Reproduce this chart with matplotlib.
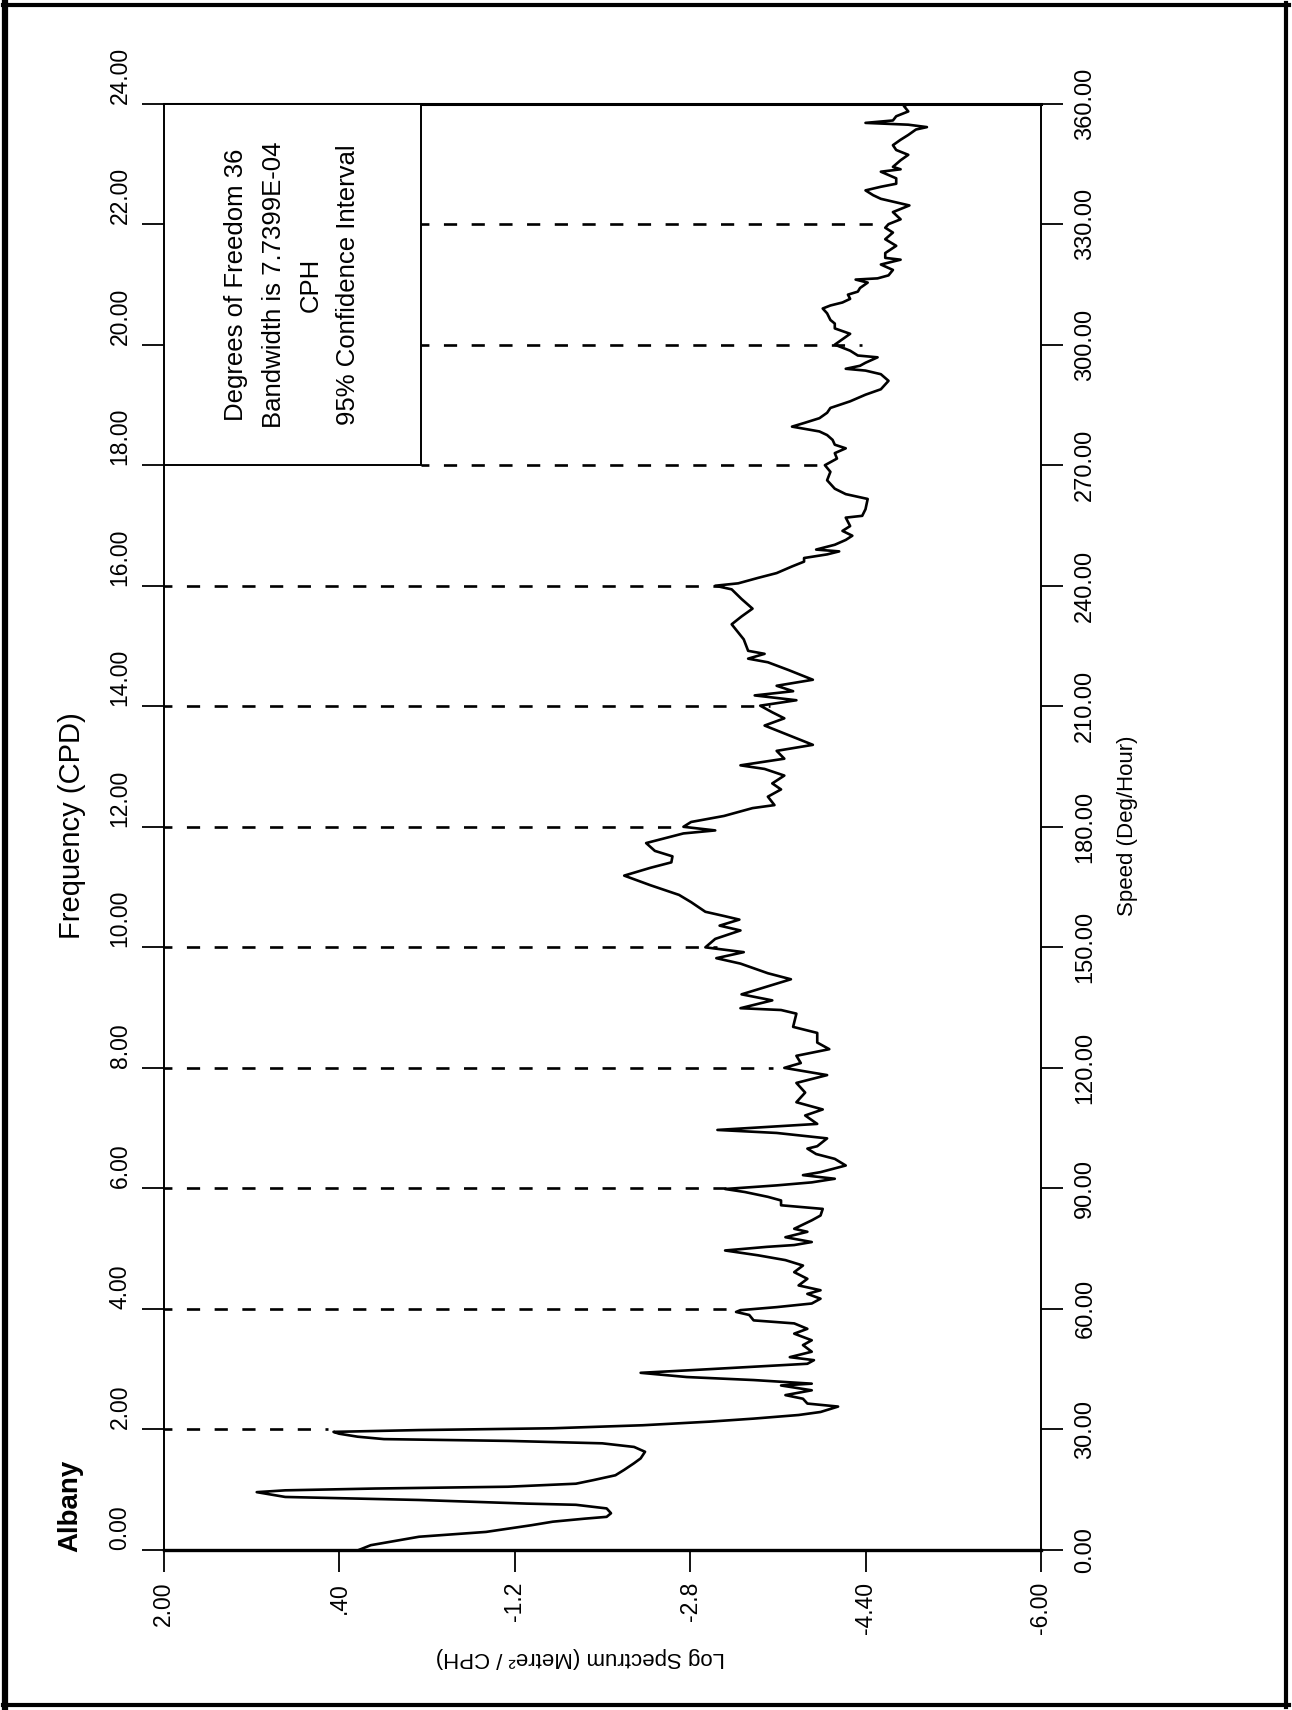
import numpy as np
import matplotlib.pyplot as plt
from matplotlib.lines import Line2D
from matplotlib.patches import Rectangle

plt.rcParams['font.family'] = ['Liberation Sans', 'DejaVu Sans']

#--------------------------------------------------------------------------------------------------------------------------------
# Datos (Albany)
freq = [0.00, 0.08, 0.22, 0.30, 0.41, 0.47, 0.52, 0.55, 0.61, 0.69, 0.75, 0.77, 0.83, 0.88, 0.96, 0.99,
        1.02, 1.05, 1.10, 1.16, 1.24, 1.33, 1.44, 1.52, 1.63, 1.71, 1.77, 1.81, 1.84, 1.88, 1.93, 1.96,
        1.99, 2.02, 2.07, 2.13, 2.18, 2.24, 2.29, 2.38, 2.43, 2.51, 2.57, 2.65, 2.73, 2.76, 2.82, 2.87,
        2.94, 2.98, 3.04, 3.09, 3.15, 3.20, 3.29, 3.40, 3.48, 3.59, 3.67, 3.76, 3.81, 3.90, 3.95, 3.98,
        4.03, 4.09, 4.17, 4.25, 4.31, 4.39, 4.50, 4.61, 4.72, 4.81, 4.89, 4.97, 5.03, 5.06, 5.11, 5.19,
        5.28, 5.33, 5.47, 5.55, 5.66, 5.72, 5.80, 5.86, 5.94, 5.99, 6.05, 6.10, 6.16, 6.22, 6.27, 6.38,
        6.49, 6.57, 6.66, 6.70, 6.83, 6.92, 6.97, 7.07, 7.21, 7.31, 7.43, 7.59, 7.75, 7.88, 8.00, 8.08,
        8.20, 8.31, 8.42, 8.58, 8.68, 8.90, 8.96, 8.99, 9.12, 9.22, 9.47, 9.57, 9.73, 9.82, 9.92, 10.00,
        10.14, 10.28, 10.36, 10.46, 10.52, 10.59, 10.75, 10.87, 11.03, 11.19, 11.32, 11.41, 11.51, 11.60,
        11.73, 11.89, 11.94, 12.00, 12.08, 12.18, 12.31, 12.36, 12.50, 12.62, 12.72, 12.85, 12.96, 13.02,
        13.13, 13.26, 13.36, 13.52, 13.68, 13.80, 13.90, 14.01, 14.10, 14.18, 14.25, 14.34, 14.44, 14.60,
        14.73, 14.79, 14.87, 14.92, 15.11, 15.20, 15.36, 15.49, 15.62, 15.78, 15.94, 16.00, 16.04, 16.13,
        16.21, 16.32, 16.40, 16.46, 16.52, 16.57, 16.60, 16.68, 16.76, 16.83, 16.91, 16.99, 17.13, 17.16,
        17.27, 17.44, 17.52, 17.61, 17.75, 17.89, 18.00, 18.11, 18.20, 18.28, 18.34, 18.42, 18.50, 18.56,
        18.64, 18.70, 18.78, 18.87, 18.95, 19.06, 19.17, 19.26, 19.40, 19.51, 19.57, 19.60, 19.65, 19.70,
        19.79, 19.82, 19.90, 20.00, 20.09, 20.18, 20.27, 20.35, 20.41, 20.52, 20.60, 20.65, 20.70, 20.76,
        20.83, 20.88, 20.94, 21.03, 21.08, 21.10, 21.15, 21.24, 21.33, 21.41, 21.44, 21.52, 21.64, 21.75,
        21.86, 21.94, 22.00, 22.08, 22.20, 22.31, 22.36, 22.42, 22.48, 22.56, 22.62, 22.67, 22.76, 22.87,
        22.91, 22.95, 23.06, 23.15, 23.23, 23.31, 23.40, 23.48, 23.57, 23.61, 23.65, 23.68, 23.72, 23.79,
        23.87, 23.96, 24.00]

logspec = [0.22, 0.11, -0.33, -0.94, -1.35, -1.55, -1.84, -2.04, -2.08, -2.04, -1.76, -1.31, -0.33, 0.89, 1.15, 0.89,
           0.07, -1.14, -1.76, -1.92, -2.12, -2.20, -2.29, -2.35, -2.39, -2.29, -2.00, -1.15, -0.01, 0.23, 0.40, 0.45,
           -0.33, -1.55, -2.37, -2.98, -3.38, -3.79, -3.99, -4.15, -3.87, -3.83, -3.67, -3.91, -3.63, -3.91, -3.38, -2.77,
           -2.35, -2.77, -3.38, -3.87, -3.93, -3.71, -3.91, -3.83, -3.91, -3.75, -3.87, -3.75, -3.38, -3.34, -3.22, -3.26,
           -3.59, -3.91, -3.99, -3.87, -3.99, -3.79, -3.87, -3.75, -3.83, -3.67, -3.42, -3.12, -3.50, -3.75, -3.91, -3.67,
           -3.87, -3.75, -3.91, -3.99, -4.01, -3.63, -3.63, -3.51, -3.30, -3.12, -3.59, -3.91, -4.12, -3.83, -3.99, -4.22,
           -4.12, -3.95, -3.87, -3.96, -4.05, -3.59, -3.05, -3.96, -3.85, -4.01, -3.77, -3.85, -3.77, -4.05, -3.66, -3.81,
           -3.77, -4.07, -3.96, -3.96, -3.74, -3.77, -3.63, -3.26, -3.55, -3.27, -3.72, -3.51, -3.26, -3.04, -3.29, -2.94,
           -3.03, -3.26, -3.07, -3.25, -3.11, -2.94, -2.81, -2.70, -2.44, -2.20, -2.44, -2.63, -2.64, -2.48,
           -2.40, -2.74, -3.03, -2.74, -2.81, -3.11, -3.37, -3.57, -3.51, -3.63, -3.55, -3.66, -3.48, -3.26,
           -3.66, -3.59, -3.92, -3.70, -3.48, -3.66, -3.55, -3.44, -3.77, -3.39, -3.74, -3.59, -3.92, -3.70,
           -3.51, -3.33, -3.48, -3.33, -3.29, -3.25, -3.18, -3.27, -3.37, -3.27, -3.18, -3.03, -3.24, -3.42,
           -3.59, -3.73, -3.84, -3.84, -4.05, -4.16, -3.95, -4.12, -4.22, -4.28, -4.19, -4.26, -4.22, -4.37,
           -4.40, -4.42, -4.22, -4.12, -4.05, -4.08, -4.03, -4.14, -4.12, -4.22, -4.12, -4.10, -4.05, -3.98,
           -3.73, -3.84, -3.98, -4.05, -4.08, -4.26, -4.40, -4.54, -4.61, -4.54, -4.40, -4.22, -4.35, -4.40,
           -4.51, -4.33, -4.26, -4.12, -4.19, -4.26, -4.12, -4.12, -4.08, -4.05, -4.01, -4.08, -4.19, -4.26,
           -4.24, -4.33, -4.35, -4.42, -4.31, -4.51, -4.61, -4.65, -4.54, -4.72, -4.58, -4.58, -4.68, -4.58,
           -4.65, -4.58, -4.61, -4.72, -4.65, -4.80, -4.68, -4.54, -4.47, -4.40, -4.54, -4.68, -4.68, -4.54,
           -4.72, -4.65, -4.72, -4.79, -4.68, -4.65, -4.72, -4.79, -4.86, -4.96, -4.79, -4.40, -4.65, -4.68,
           -4.79, -4.75, -4.80]

# lineas de las armonicas (CPD) y donde terminan
harmonics = [2, 4, 6, 8, 10, 12, 14, 16, 18, 20, 22]
harmonic_levels = [0.50, -3.26, -3.13, -3.56, -3.05, -2.74, -3.53, -3.11, -4.05, -4.37, -4.57]

spec_ticks = [2.0, 0.4, -1.2, -2.8, -4.4, -6.0]
spec_labels = ['2.00', '.40', '-1.2', '-2.8', '-4.40', '-6.00']
freq_ticks = np.arange(0, 25, 2)
freq_labels = ['%.2f' % f for f in freq_ticks]
speed_ticks = np.arange(0, 361, 30)
speed_labels = ['%.2f' % s for s in speed_ticks]

box_right = -0.35
box_lines = 'Degrees of Freedom 36\nBandwidth is 7.7399E-04\nCPH\n95% Confidence Interval'

#--------------------------------------------------------------------------------------------------------------------------------
W, H = 1292, 1710
fig = plt.figure(figsize=(W / 100, H / 100), dpi=100)
ax = fig.add_axes([163.5 / W, 1 - 1550 / H, (1041 - 163.5) / W, (1550 - 103.6) / H])

ax.plot(logspec, freq, color='black', lw=1.9, zorder=3)

for f, lev in zip(harmonics, harmonic_levels):
    x0 = 2.0 if f < 18 else box_right
    ax.plot([x0, lev], [f, f], color='black', lw=1.9, ls=(2, (5, 5.5)), zorder=2)

ax.set_xlim(2, -6)
ax.set_ylim(0, 24)

ax.set_xticks(spec_ticks)
ax.set_xticklabels(spec_labels, rotation=90, fontsize=16.5, va='top', ha='center')
ax.set_yticks(freq_ticks)
ax.set_yticklabels(freq_labels, rotation=90, fontsize=16.5, va='bottom', ha='right')
ax.tick_params(axis='both', direction='out', length=16, width=1.3, pad=7, colors='black')

ax.spines['bottom'].set_linewidth(2.4)
ax.spines['top'].set_linewidth(2.2)
ax.spines['left'].set_linewidth(1.4)
ax.spines['right'].set_linewidth(1.4)

# eje derecho: velocidad
ax2 = ax.twinx()
ax2.set_ylim(0, 360)
ax2.set_yticks(speed_ticks)
ax2.set_yticklabels(speed_labels, rotation=90, fontsize=17, va='center', ha='left')
ax2.tick_params(axis='y', direction='out', length=16, width=1.3, pad=8)
for s in ax2.spines.values():
    s.set_visible(False)

# cuadro de texto
ax.add_patch(Rectangle((box_right, 18), 2.0 - box_right, 6, facecolor='white', edgecolor='black',
                       lw=1.4, zorder=4))
ax.text((2.0 + box_right) / 2, 21, box_lines, rotation=90, ha='center', va='center',
        multialignment='center', fontsize=18.5, linespacing=1.7, zorder=5)

#--------------------------------------------------------------------------------------------------------------------------------
# textos
fig.text(72 / W, 1 - 826 / H, 'Frequency (CPD)', rotation=90, ha='center', va='center', fontsize=21)
fig.text(70 / W, 1 - 1552 / H, 'Albany', rotation=90, ha='center', va='bottom', fontsize=20,
         fontweight='bold')
fig.text(1128 / W, 1 - 826 / H, 'Speed (Deg/Hour)', rotation=90, ha='center', va='center', fontsize=16)
fig.text(580 / W, 1 - 1657 / H, 'Log Spectrum (Metre² / CPH)', rotation=180, ha='center', va='center',
         fontsize=16)

# marco exterior
fig.add_artist(Line2D([5 / W, 5 / W], [0.002, 0.998], color='black', lw=4.5))
fig.add_artist(Line2D([1286 / W, 1286 / W], [0.002, 0.998], color='black', lw=3.0))
fig.add_artist(Line2D([0.002, 0.998], [1 - 5 / H, 1 - 5 / H], color='black', lw=3.0))
fig.add_artist(Line2D([0.002, 0.998], [1 - 1705 / H, 1 - 1705 / H], color='black', lw=3.0))

fig.savefig('out.png', dpi=100)
